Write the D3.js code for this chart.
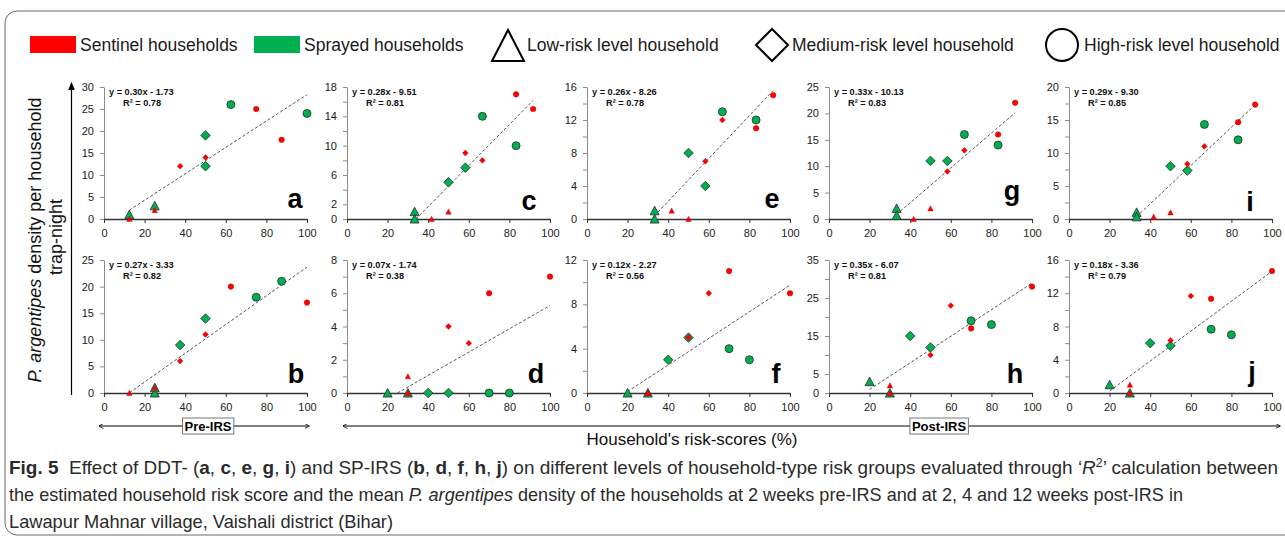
<!DOCTYPE html>
<html><head><meta charset="utf-8">
<script src="https://cdn.jsdelivr.net/npm/d3@7"></script>
<style>
body{margin:0;background:#fff;}
svg{display:block;font-family:"Liberation Sans",Arial,sans-serif;}
text{white-space:pre;}
</style></head><body>
<svg id="chart" width="1285" height="538"></svg>
<script>
// Panels in grid order: DDT row (a c e g i), SP row (b d f h j)
const panelIds = ["a","c","e","g","i","b","d","f","h","j"];
// Risk level of the six households in each series, in order
const riskShapes = ["triangle","triangle","diamond","diamond","circle","circle"];

// Household risk-scores (%) of sentinel households
const sentinelScores = [
  [12.5,25,37.5,50,75,87.5],
  [41.7,50,58.3,66.7,83.3,91.7],
  [41.7,50,58.3,66.7,83.3,91.7],
  [41.7,50,58.3,66.7,83.3,91.7],
  [41.7,50,58.3,66.7,83.3,91.7],
  [12.5,25,37.5,50,62.5,100],
  [30,30,50,60,70,100],
  [30,30,50,60,70,100],
  [30,30,50,60,70,100],
  [30,30,50,60,70,100]
];
// Mean P. argentipes density per trap-night, sentinel households
const sentinelDensity = [
  [0,2,12,14,25,18],
  [0,1,9,8,17,15],
  [1,0,7,12,11,15],
  [0,2,9,13,16,22],
  [0.33,1,8.33,11,14.67,17.33],
  [0,1,6,11,20,17],
  [1,0,4,3,6,7],
  [0,0,5,9,11,9],
  [2,0,10,23,17,28],
  [1,0,6.33,11.67,11.33,14.67]
];
// Household risk-scores (%) of sprayed households
const sprayedScores = [
  [12.5,25,50,50,62.5,100],
  [33.3,33.3,50,58.3,66.7,83.3],
  [33.3,33.3,50,58.3,66.7,83.3],
  [33.3,33.3,50,58.3,66.7,83.3],
  [33.3,33.3,50,58.3,66.7,83.3],
  [25,25,37.5,50,75,87.5],
  [20,30,40,50,70,80],
  [20,30,40,50,70,80],
  [20,30,40,50,70,80],
  [20,30,40,50,70,80]
];
// Mean P. argentipes density per trap-night, sprayed households
const sprayedDensity = [
  [1,3,19,12,26,24],
  [1,0,5,7,14,10],
  [1,0,8,4,13,12],
  [2,0.67,11,11,16,14],
  [1,0.33,8,7.33,14.33,12],
  [0,1,9,14,18,21],
  [0,0,0,0,0,0],
  [0,0,3,5,4,3],
  [3,0,15,12,19,18],
  [1,0,6,5.67,7.67,7]
];
// Linear trendlines
const trendSlope = [0.30,0.28,0.26,0.33,0.29,0.27,0.07,0.12,0.35,0.18];
const trendIntercept = [-1.73,-9.51,-8.26,-10.13,-9.30,-3.33,-1.74,-2.27,-6.07,-3.36];
const trendR2 = [0.78,0.81,0.78,0.83,0.85,0.82,0.38,0.56,0.81,0.79];
// Axes
const yMax = [30,18,16,25,20,25,8,12,35,16];
const yTickStep = [5,2,2,5,2.5,5,1,2,5,2];
const yTickLabels = [
  [0,5,10,15,20,25,30],[0,2,6,10,14,18],[0,4,8,12,16],[0,5,10,15,20,25],[0,5,10,15,20],
  [0,5,10,15,20,25],[0,2,4,6,8],[0,4,8,12],[0,5,15,25,35],[0,4,8,12,16]
];
const xTickLabels = [0,20,40,60,80,100];
const legendItems = ["Sentinel households","Sprayed households","Low-risk level household","Medium-risk level household","High-risk level household"];

// ---- layout ----
const colX = [104, 347, 587, 829, 1069];
const plotW = 203;
const rowTop = [87, 260], rowBottom = [219, 393];
const letterPos = [[295,208],[529,210],[772,208],[1012,200],[1250,211],
                   [296,383],[536,383],[776,383],[1015,383],[1252,381]];
const RED = "#ff0000", GREEN = "#00b050";
const FONT = "'Liberation Sans', Arial, sans-serif";

// marker shapes, size = (width)^2
const symTriangle = { draw(ctx, size){ const s = Math.sqrt(size)/2; ctx.moveTo(0,-s); ctx.lineTo(s,s*0.9); ctx.lineTo(-s,s*0.9); ctx.closePath(); } };
const symDiamond  = { draw(ctx, size){ const s = Math.sqrt(size)/2; ctx.moveTo(0,-s); ctx.lineTo(s,0); ctx.lineTo(0,s); ctx.lineTo(-s,0); ctx.closePath(); } };
const symCircle   = { draw(ctx, size){ const r = Math.sqrt(size)/2; ctx.moveTo(r,0); ctx.arc(0,0,r,0,2*Math.PI); } };
const symbolOf = {triangle:symTriangle, diamond:symDiamond, circle:symCircle};
const sprayedWidth = {triangle:9, diamond:9.5, circle:8};
const sentinelWidth = {triangle:5.5, diamond:5.8, circle:5.6};

const svg = d3.select("#chart");

// frame
svg.append("rect").attr("x",5).attr("y",11).attr("width",1320).attr("height",524)
  .attr("rx",12).attr("fill","none").attr("stroke","#6b6b6b").attr("stroke-width",1);

// ---- legend ----
const lg = svg.append("g").attr("font-family",FONT).attr("font-size",17.5).attr("fill","#1a1a1a");
lg.append("rect").attr("x",30).attr("y",36).attr("width",46).attr("height",17).attr("fill",RED);
lg.append("text").attr("x",80).attr("y",50.5).text(legendItems[0]);
lg.append("rect").attr("x",254).attr("y",36).attr("width",46).attr("height",17).attr("fill",GREEN);
lg.append("text").attr("x",304).attr("y",50.5).text(legendItems[1]);
lg.append("path").attr("d","M508,30 L524,61 L492,61 Z").attr("fill","none").attr("stroke","#000").attr("stroke-width",2);
lg.append("text").attr("x",527).attr("y",50.5).text(legendItems[2]);
lg.append("path").attr("d","M772,29 L788,45 L772,61 L756,45 Z").attr("fill","none").attr("stroke","#000").attr("stroke-width",2);
lg.append("text").attr("x",792).attr("y",50.5).text(legendItems[3]);
lg.append("ellipse").attr("cx",1062).attr("cy",45).attr("rx",16).attr("ry",16).attr("fill","none").attr("stroke","#000").attr("stroke-width",2);
lg.append("text").attr("x",1084).attr("y",50.5).text(legendItems[4]);

// ---- panels ----
panelIds.forEach((id, i) => {
  const col = i % 5, row = Math.floor(i / 5);
  const x0 = colX[col], top = rowTop[row], bottom = rowBottom[row];
  const x = d3.scaleLinear().domain([0,100]).range([x0, x0 + plotW]);
  const y = d3.scaleLinear().domain([0,yMax[i]]).range([bottom, top]);
  const g = svg.append("g");

  // y axis
  const yTicks = d3.range(0, yMax[i] + 1e-9, yTickStep[i]);
  const ya = g.append("g").attr("transform",`translate(${x0},0)`)
    .call(d3.axisLeft(y).tickValues(yTicks).tickSize(4).tickSizeOuter(0).tickPadding(6)
      .tickFormat(d => yTickLabels[i].some(v => Math.abs(v - d) < 1e-6) ? d : ""));
  ya.attr("font-family",FONT).attr("font-size",11);
  ya.select(".domain").attr("stroke","#8c8c8c");
  ya.selectAll(".tick line").attr("stroke","#8c8c8c");
  ya.selectAll(".tick text").attr("fill","#222");

  // x axis
  const xa = g.append("g").attr("transform",`translate(0,${bottom})`)
    .call(d3.axisBottom(x).tickValues(xTickLabels).tickSize(4).tickSizeOuter(0).tickPadding(6));
  xa.attr("font-family",FONT).attr("font-size",11);
  xa.select(".domain").attr("stroke","#333").attr("stroke-width",1.3);
  xa.selectAll(".tick line").attr("stroke","#333");
  xa.selectAll(".tick text").attr("fill","#222");

  // trendline over the scored range, kept inside the plot
  const m = trendSlope[i], b = trendIntercept[i];
  const allX = sentinelScores[i].concat(sprayedScores[i]);
  let xs = d3.min(allX); const xe = d3.max(allX);
  if (m * xs + b < 0) xs = -b / m;
  g.append("line")
    .attr("x1",x(xs)).attr("y1",y(m*xs+b)).attr("x2",x(xe)).attr("y2",y(m*xe+b))
    .attr("stroke","#555").attr("stroke-width",1).attr("stroke-dasharray","3,2");

  // markers: sprayed beneath, sentinel on top
  const sprayed = riskShapes.map((s,k) => ({s, x:sprayedScores[i][k], y:sprayedDensity[i][k]}));
  const sentinel = riskShapes.map((s,k) => ({s, x:sentinelScores[i][k], y:sentinelDensity[i][k]}));
  g.selectAll("path.spr").data(sprayed).join("path").attr("class","spr")
    .attr("transform",d => `translate(${x(d.x)},${y(d.y)})`)
    .attr("d",d => d3.symbol().type(symbolOf[d.s]).size(sprayedWidth[d.s]**2)())
    .attr("fill",GREEN).attr("stroke","#2a2a2a").attr("stroke-width",0.8);
  g.selectAll("path.sen").data(sentinel).join("path").attr("class","sen")
    .attr("transform",d => `translate(${x(d.x)},${y(d.y)})`)
    .attr("d",d => d3.symbol().type(symbolOf[d.s]).size(sentinelWidth[d.s]**2)())
    .attr("fill",RED).attr("stroke","#b00000").attr("stroke-width",0.4);

  // equation
  const eq = g.append("g").attr("font-family",FONT).attr("font-weight","bold").attr("font-size",9.2).attr("fill","#111");
  eq.append("text").attr("x",x0+5).attr("y",top+7.5)
    .text(`y = ${m.toFixed(2)}x - ${Math.abs(b).toFixed(2)}`);
  eq.append("text").attr("x",x0+19).attr("y",top+19).text(`R² = ${trendR2[i].toFixed(2)}`);

  // panel letter
  g.append("text").attr("x",letterPos[i][0]).attr("y",letterPos[i][1]).attr("text-anchor","middle")
    .attr("font-family",FONT).attr("font-weight","bold").attr("font-size",27).attr("fill","#000").text(id);
});

// ---- shared y label and arrow ----
svg.append("defs").append("marker").attr("id","arr").attr("viewBox","0 0 10 10")
  .attr("refX",5).attr("refY",5).attr("markerWidth",7).attr("markerHeight",7).attr("orient","auto")
  .append("path").attr("d","M0,1 L10,5 L0,9 Z").attr("fill","#000");
svg.append("line").attr("x1",71.5).attr("y1",395).attr("x2",71.5).attr("y2",86)
  .attr("stroke","#000").attr("stroke-width",1.2).attr("marker-end","url(#arr)");
const yl = svg.append("text").attr("transform","translate(41,240) rotate(-90)").attr("text-anchor","middle")
  .attr("font-family",FONT).attr("font-size",18).attr("fill","#111");
yl.append("tspan").attr("font-style","italic").text("P. argentipes");
yl.append("tspan").text(" density per household");
svg.append("text").attr("transform","translate(62,237) rotate(-90)").attr("text-anchor","middle")
  .attr("font-family",FONT).attr("font-size",18).attr("fill","#111").text("trap-night");

// ---- pre / post brackets ----
const ends = svg.append("defs");
ends.append("marker").attr("id","cap").attr("viewBox","0 0 10 10").attr("refX",9).attr("refY",5)
  .attr("markerWidth",5).attr("markerHeight",5).attr("orient","auto-start-reverse")
  .append("path").attr("d","M0,0 L10,5 L0,10").attr("fill","none").attr("stroke","#000").attr("stroke-width",1.5);
function bracket(x1, x2, cx, label){
  svg.append("line").attr("x1",x1).attr("x2",x2).attr("y1",426).attr("y2",426)
    .attr("stroke","#000").attr("stroke-width",1).attr("marker-start","url(#cap)").attr("marker-end","url(#cap)");
  const t = svg.append("text").attr("x",cx).attr("y",430.5).attr("text-anchor","middle")
    .attr("font-family",FONT).attr("font-weight","bold").attr("font-size",13).attr("fill","#000").text(label);
  const bb = t.node().getBBox();
  svg.insert("rect", () => t.node()).attr("x",bb.x-2).attr("y",418).attr("width",bb.width+4).attr("height",16)
    .attr("fill","#fff").attr("stroke","#777").attr("stroke-width",1);
}
bracket(99, 309, 208, "Pre-IRS");
bracket(343, 1280, 939, "Post-IRS");
svg.append("text").attr("x",692).attr("y",445).attr("text-anchor","middle")
  .attr("font-family",FONT).attr("font-size",17).attr("fill","#111").text("Household's risk-scores (%)");

// ---- caption ----
const cap = svg.append("g").attr("font-family",FONT).attr("font-size",18.5).attr("fill","#2b2b2b");
function captionLine(yPos, width, parts){
  const t = cap.append("text").attr("x",9).attr("y",yPos).attr("textLength",width).attr("lengthAdjust","spacingAndGlyphs");
  parts.forEach(p => {
    const s = t.append("tspan").text(p.t);
    if (p.b) s.attr("font-weight","bold");
    if (p.i) s.attr("font-style","italic");
    if (p.dy) s.attr("dy",p.dy);
    if (p.fs) s.attr("font-size",p.fs);
  });
}
const B = t => ({t, b:true});
captionLine(474, 1269, [
  B("Fig. 5"), {t:"  Effect of DDT- ("}, B("a"), {t:", "}, B("c"), {t:", "}, B("e"), {t:", "}, B("g"), {t:", "}, B("i"),
  {t:") and SP-IRS ("}, B("b"), {t:", "}, B("d"), {t:", "}, B("f"), {t:", "}, B("h"), {t:", "}, B("j"),
  {t:") on different levels of household-type risk groups evaluated through ‘"}, {t:"R", i:true},
  {t:"2", dy:-7, fs:12}, {t:"’ calculation between", dy:7}
]);
captionLine(501, 1174, [
  {t:"the estimated household risk score and the mean "}, {t:"P. argentipes", i:true},
  {t:" density of the households at 2 weeks pre-IRS and at 2, 4 and 12 weeks post-IRS in"}
]);
captionLine(528, 384, [{t:"Lawapur Mahnar village, Vaishali district (Bihar)"}]);
</script>
</body></html>
